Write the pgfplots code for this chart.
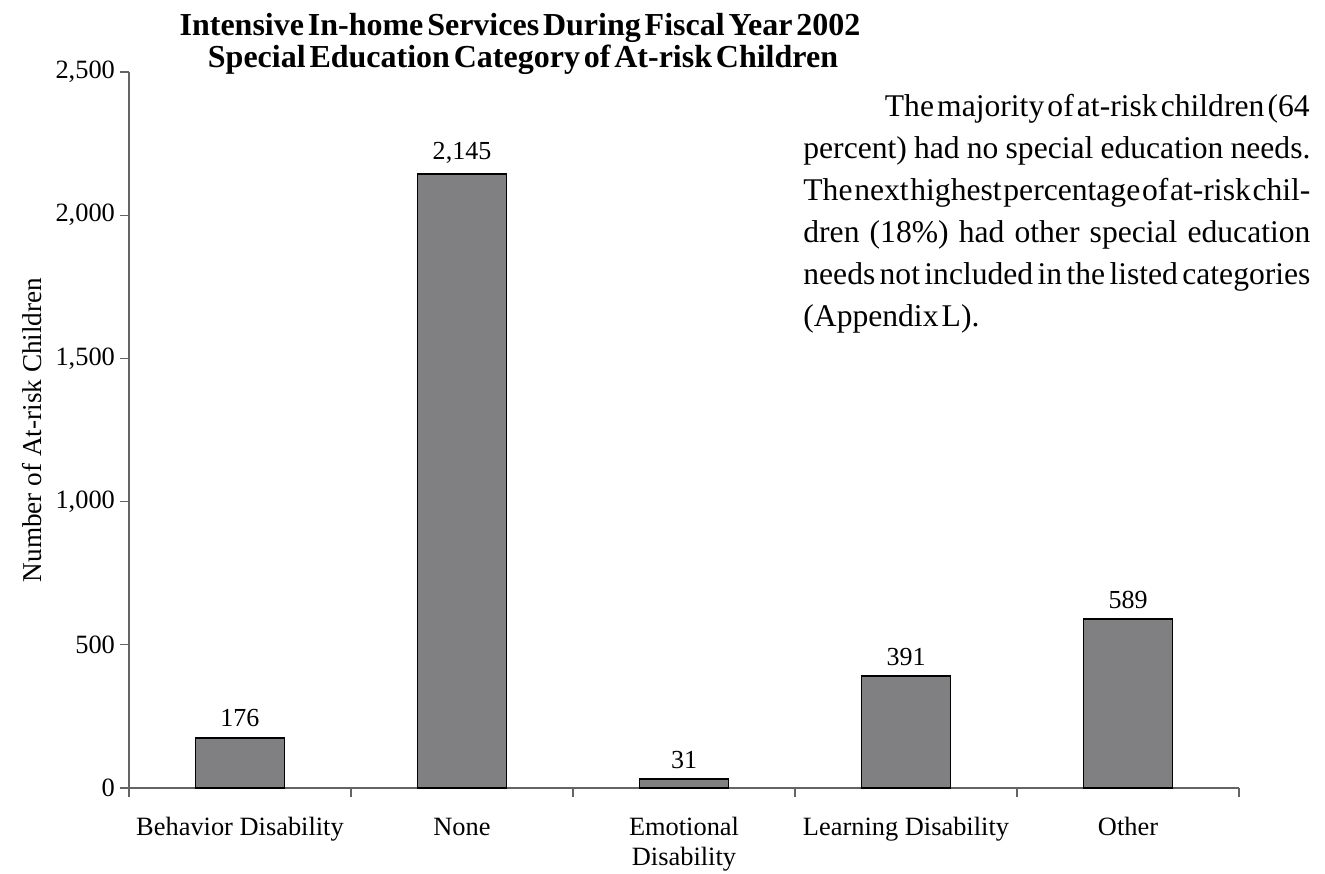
\documentclass[border=0pt]{standalone}
\usepackage{fontspec}
\setmainfont{Liberation Serif}
\usepackage{pgfplots}
\pgfplotsset{compat=1.18}

\definecolor{barfill}{RGB}{128,128,130}
\definecolor{axgray}{RGB}{100,100,100}
\newcommand\tighttitle{\spaceskip=0.12em\relax}
\newcommand\tightnote{\spaceskip=0.1em plus 1em minus 0.05em\relax}

\begin{document}
\begin{tikzpicture}
\useasboundingbox (-64.5pt,-42.5pt) rectangle (598pt,394pt);
\begin{axis}[
    scale only axis,
    width=555pt, height=358pt,
    at={(0,0)}, anchor=south west,
    xmin=-0.5, xmax=4.5, ymin=0, ymax=2500,
    enlargelimits=false,
    axis x line*=bottom, axis y line*=left,
    axis line style={axgray, line width=0.6pt, -},
    tick align=outside,
    major tick length=4.5pt,
    tick style={axgray, line width=0.6pt},
    ytick={0,500,...,2500},
    xtick={-0.5,0.5,...,4.5},
    x tick label as interval,
    xticklabels={\strut Behavior Disability, \strut None, {\strut Emotional\\Disability}, \strut Learning Disability, \strut Other},
    xticklabel style={align=center, font=\fontsize{13.2}{15}\selectfont, yshift=-5pt},
    yticklabel style={font=\fontsize{13.2}{15}\selectfont, xshift=1pt},
    /pgf/number format/assume math mode=true,
    ylabel={Number of At-risk Children},
    every axis y label/.style={at={(axis description cs:-0.0874,0.5)}, rotate=90, anchor=center, font=\fontsize{13.6}{15}\selectfont},
    ybar, bar width=44.5pt,
    nodes near coords,
    every node near coord/.append style={font=\fontsize{13}{15}\selectfont, yshift=1.5pt},
]
\addplot[ybar, draw=black, line width=0.9pt, fill=barfill] coordinates {
    (0,176) (1,2145) (2,31) (3,391) (4,589)};
\end{axis}
% title
\begin{scope}[every node/.style={font=\fontsize{16}{18}\selectfont\bfseries, inner sep=0pt, anchor=base}]
\node at (195.5pt,376pt) {\tighttitle Intensive In-home Services During Fiscal Year 2002};
\node at (197pt,360pt) {\tighttitle Special Education Category of At-risk Children};
\end{scope}
% note
\begin{scope}[every node/.style={font=\fontsize{15.8}{21}\selectfont, inner sep=0pt}]
\node[anchor=base east] at (590.5pt,335.5pt) {\tightnote The majority of at-risk children (64};
\node[anchor=base west] at (337pt,314.5pt) {\tightnote\makebox[253.5pt][s]{percent) had no special education needs.}};
\node[anchor=base west] at (337pt,293.5pt) {\tightnote\makebox[253.5pt][s]{The next highest percentage of at-risk chil-}};
\node[anchor=base west] at (337pt,272.5pt) {\tightnote\makebox[253.5pt][s]{dren (18\%) had other special education}};
\node[anchor=base west] at (337pt,251.5pt) {\tightnote\makebox[253.5pt][s]{needs not included in the listed categories}};
\node[anchor=base west] at (337pt,230.5pt) {\tightnote (Appendix L).};
\end{scope}
\end{tikzpicture}
\end{document}
